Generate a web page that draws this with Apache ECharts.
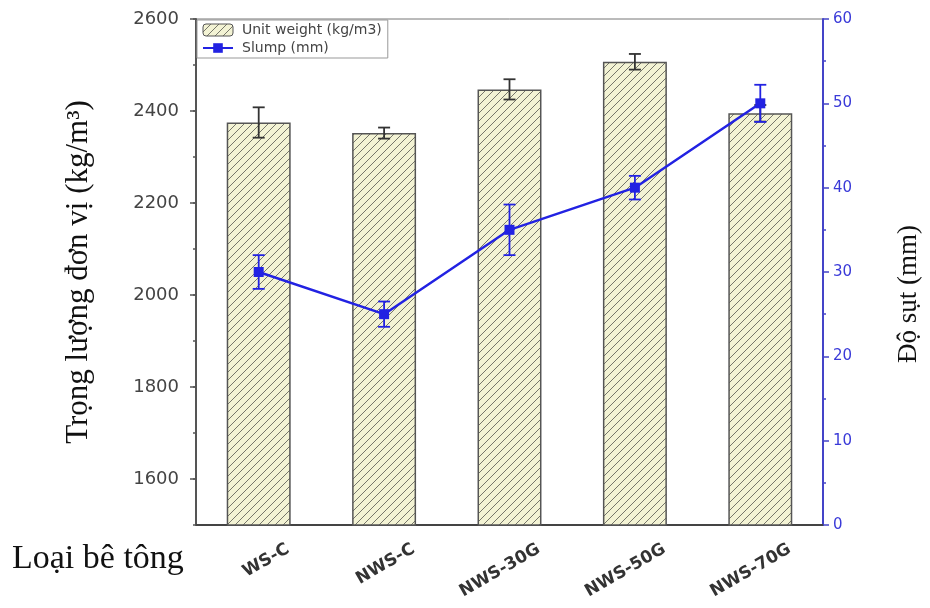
<!DOCTYPE html>
<html>
<head>
<meta charset="utf-8">
<script src="https://cdn.jsdelivr.net/npm/echarts@6/dist/echarts.min.js"></script>
<style>
  html, body { margin: 0; padding: 0; background: #fff; }
  #chart { width: 930px; height: 608px; }
</style>
</head>
<body>
<div id="chart"></div>
<script>
// Concrete mixes
const categories = ['WS-C', 'NWS-C', 'NWS-30G', 'NWS-50G', 'NWS-70G'];
// Unit weight (kg/m3) and its spread
const unitWeight = [2375, 2352, 2447, 2507, 2395];
const unitWeightErr = [33, 12, 22, 17, 18];
// Slump (mm) and its spread
const slump = [30, 25, 35, 40, 50];
const slumpErr = [2, 1.5, 3, 1.4, 2.2];
// Axis ticks
const weightTicks = [1600, 1800, 2000, 2200, 2400, 2600];

const BLUE = '#2222e2';
const AXIS_BLUE = '#4444c8';

// Diagonal hatch tile for the bars
function hatchTile() {
  const s = 8;
  const c = document.createElement('canvas');
  c.width = s; c.height = s;
  const g = c.getContext('2d');
  g.fillStyle = '#f3f3d4';
  g.fillRect(0, 0, s, s);
  g.strokeStyle = '#76766a';
  g.lineWidth = 1;
  g.beginPath();
  g.moveTo(-1, s + 1); g.lineTo(s + 1, -1);
  g.moveTo(-1, 1); g.lineTo(1, -1);
  g.moveTo(s - 1, s + 1); g.lineTo(s + 1, s - 1);
  g.stroke();
  return c;
}

function errorBars(color, capHalf, width) {
  return function (params, api) {
    const i = api.value(0);
    const v = api.value(1);
    const e = api.value(2);
    const hi = api.coord([i, v + e]);
    const lo = api.coord([i, v - e]);
    const st = { stroke: color, lineWidth: width };
    return {
      type: 'group',
      children: [
        { type: 'line', shape: { x1: hi[0], y1: hi[1], x2: lo[0], y2: lo[1] }, style: st },
        { type: 'line', shape: { x1: hi[0] - capHalf, y1: hi[1], x2: hi[0] + capHalf, y2: hi[1] }, style: st },
        { type: 'line', shape: { x1: lo[0] - capHalf, y1: lo[1], x2: lo[0] + capHalf, y2: lo[1] }, style: st }
      ]
    };
  };
}

const chart = echarts.init(document.getElementById('chart'));
const hatch = { image: hatchTile(), repeat: 'repeat' };

chart.setOption({
  animation: false,
  backgroundColor: '#fff',
  grid: { left: 196, right: 106, top: 19, bottom: 83, show: true, borderColor: '#777', borderWidth: 1, backgroundColor: 'transparent' },
  legend: {
    left: 197, top: 20,
    orient: 'vertical',
    padding: [3, 6, 3, 5],
    itemGap: 4,
    itemWidth: 30, itemHeight: 12,
    borderColor: '#999', borderWidth: 1,
    backgroundColor: '#fff',
    textStyle: { fontFamily: 'DejaVu Sans', fontSize: 14, color: '#444', padding: [0, 0, 0, 4] },
    data: [
      { name: 'Unit weight (kg/m3)', itemStyle: { color: hatch, borderColor: '#555', borderWidth: 1 } },
      { name: 'Slump (mm)' }
    ]
  },
  graphic: [
    {
      type: 'text', left: 12, top: 542,
      style: { text: 'Loại bê tông', font: '34px "Liberation Serif"', fill: '#111' }
    }
  ],
  xAxis: [
    {
      type: 'category',
      data: categories,
      boundaryGap: true,
      axisLine: { lineStyle: { color: '#444', width: 2 } },
      axisTick: { alignWithLabel: true, length: 6, lineStyle: { color: '#444', width: 1.5 } },
      axisLabel: {
        rotate: 30, margin: 40, padding: [0, -34, 0, 0],
        fontFamily: 'DejaVu Sans', fontWeight: 'bold', fontSize: 17, color: '#333'
      }
    },
    {
      type: 'category',
      data: categories,
      position: 'bottom',
      boundaryGap: true,
      axisLine: { show: false },
      axisTick: { length: 4, lineStyle: { color: '#444', width: 1.5 } },
      axisLabel: { show: false }
    }
  ],
  yAxis: [
    {
      type: 'value',
      min: 1500, max: 2600, interval: 100,
      position: 'left',
      name: 'Trọng lượng đơn vị (kg/m³)',
      nameLocation: 'middle',
      nameRotate: 90,
      nameGap: 102,
      nameTextStyle: { fontFamily: 'Liberation Serif', fontSize: 31, color: '#111' },
      splitLine: { show: false },
      axisLine: { show: true, lineStyle: { color: '#555', width: 2 } },
      axisTick: { show: true, length: 6, customValues: weightTicks, lineStyle: { color: '#555', width: 1.5 } },
      axisLabel: { customValues: weightTicks, margin: 17, formatter: v => String(v), fontFamily: 'DejaVu Sans', fontSize: 18, color: '#444' }
    },
    {
      type: 'value',
      min: 0, max: 60, interval: 10,
      position: 'right',
      name: 'Độ sụt (mm)',
      nameLocation: 'middle',
      nameRotate: 90,
      nameGap: 72,
      nameTextStyle: { fontFamily: 'Liberation Serif', fontSize: 27, color: '#111', padding: [0, 44, 0, 0] },
      splitLine: { show: false },
      axisLine: { show: true, lineStyle: { color: AXIS_BLUE, width: 2 } },
      axisTick: { show: true, length: 6, lineStyle: { color: AXIS_BLUE, width: 1.5 } },
      minorTick: { show: true, splitNumber: 2, length: 3, lineStyle: { color: AXIS_BLUE, width: 1.5 } },
      axisLabel: { margin: 10, fontFamily: 'DejaVu Sans', fontSize: 15, color: '#3a3ad8' }
    },
    {
      // minor ticks of the weight axis
      type: 'value',
      min: 1500, max: 2600, interval: 100,
      position: 'left',
      splitLine: { show: false },
      axisLine: { show: false },
      axisTick: { show: true, length: 3, lineStyle: { color: '#555', width: 1.5 } },
      axisLabel: { show: false }
    }
  ],
  series: [
    {
      name: 'Unit weight (kg/m3)',
      type: 'bar',
      yAxisIndex: 0,
      barWidth: '51%',
      data: unitWeight,
      itemStyle: { color: hatch, borderColor: '#555', borderWidth: 1.5 },
      z: 2
    },
    {
      type: 'custom',
      yAxisIndex: 0,
      renderItem: errorBars('#333', 6, 1.8),
      data: categories.map((c, i) => [i, unitWeight[i], unitWeightErr[i]]),
      encode: { x: 0, y: 1 },
      z: 3
    },
    {
      name: 'Slump (mm)',
      type: 'line',
      yAxisIndex: 1,
      data: slump,
      symbol: 'rect',
      symbolSize: 10,
      lineStyle: { color: BLUE, width: 2.5 },
      itemStyle: { color: BLUE },
      z: 5
    },
    {
      type: 'custom',
      yAxisIndex: 1,
      renderItem: errorBars(BLUE, 6, 1.8),
      data: categories.map((c, i) => [i, slump[i], slumpErr[i]]),
      encode: { x: 0, y: 1 },
      z: 4
    }
  ]
});
</script>
</body>
</html>
